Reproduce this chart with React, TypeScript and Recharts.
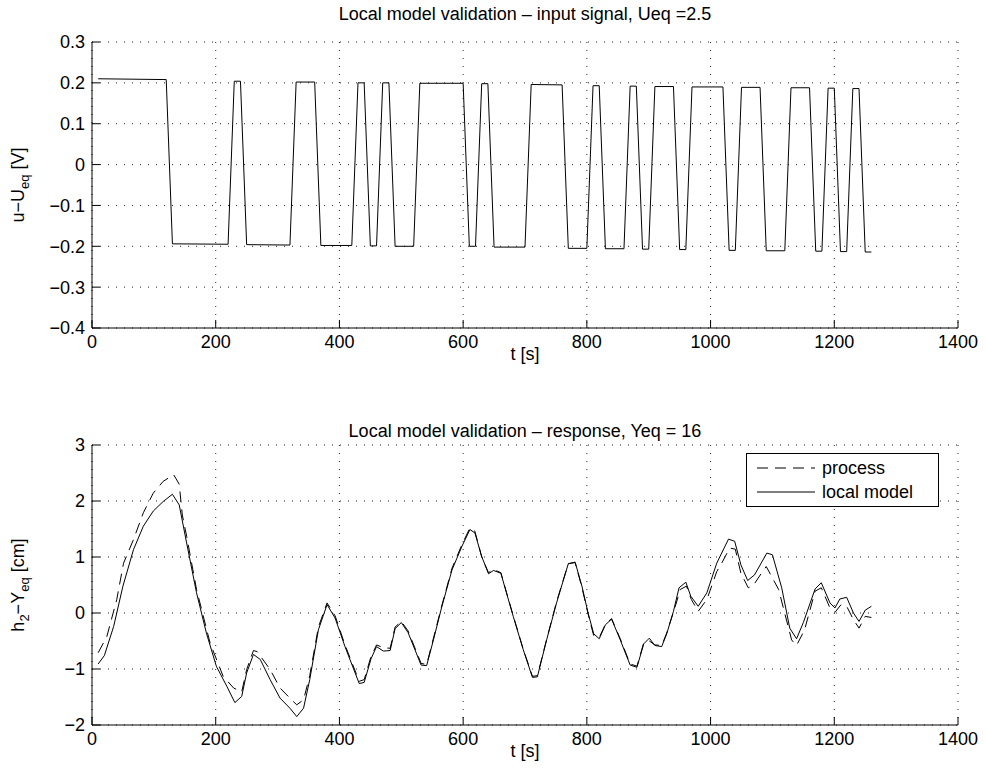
import { LineChart, Line, XAxis, YAxis, CartesianGrid, Legend } from "recharts";

const FONT = '"Liberation Sans", Arial, Helvetica, sans-serif';
const FS = 18;

// axis ticks
const timeTicks = [0, 200, 400, 600, 800, 1000, 1200, 1400];
const inputTicks = [-0.4, -0.3, -0.2, -0.1, 0, 0.1, 0.2, 0.3];
const responseTicks = [-2, -1, 0, 1, 2, 3];
const legendOrder = ["process", "local model"];

// input signal u - Ueq (breakpoints)
const inputT = [10, 120, 130, 220, 230, 240, 250, 320, 330, 360, 370, 420, 430, 440, 450, 460, 470, 480, 490, 520, 530, 600, 610, 620, 630, 640, 650, 700, 710, 760, 770, 800, 810, 820, 830, 860, 870, 880, 890, 900, 910, 940, 950, 960, 970, 1020, 1030, 1040, 1050, 1080, 1090, 1120, 1130, 1160, 1170, 1180, 1190, 1200, 1210, 1220, 1230, 1240, 1250, 1260];
const inputU = [0.21, 0.208, -0.194, -0.195, 0.204, 0.204, -0.196, -0.197, 0.202, 0.202, -0.198, -0.198, 0.2, 0.2, -0.199, -0.199, 0.2, 0.2, -0.2, -0.2, 0.199, 0.199, -0.2, -0.2, 0.198, 0.198, -0.202, -0.202, 0.196, 0.195, -0.205, -0.205, 0.193, 0.193, -0.206, -0.206, 0.192, 0.192, -0.207, -0.207, 0.191, 0.191, -0.208, -0.208, 0.19, 0.19, -0.21, -0.21, 0.189, 0.189, -0.211, -0.211, 0.188, 0.188, -0.212, -0.212, 0.187, 0.187, -0.213, -0.213, 0.186, 0.186, -0.214, -0.214];

// local model response
const modelT = [10, 20, 35, 50, 67, 83, 99, 115, 130, 141, 153, 169, 185, 201, 218, 231, 242, 250, 261, 272, 288, 304, 320, 331, 342, 352, 366, 380, 393, 409, 432, 440, 451, 460, 471, 482, 490, 500, 511, 532, 541, 552, 565, 582, 598, 611, 619, 630, 641, 649, 661, 670, 681, 697, 712, 720, 735, 751, 770, 781, 792, 802, 811, 820, 830, 840, 854, 870, 881, 892, 901, 910, 921, 929, 940, 949, 960, 968, 980, 994, 1010, 1029, 1039, 1049, 1060, 1071, 1091, 1100, 1115, 1128, 1139, 1150, 1169, 1179, 1193, 1201, 1209, 1220, 1231, 1240, 1250, 1260];
const modelY = [-0.91, -0.76, -0.24, 0.48, 1.13, 1.55, 1.82, 1.99, 2.12, 1.93, 1.25, 0.36, -0.36, -0.95, -1.31, -1.6, -1.49, -1.07, -0.74, -0.83, -1.19, -1.52, -1.7, -1.85, -1.7, -1.19, -0.3, 0.15, -0.09, -0.6, -1.26, -1.24, -0.82, -0.6, -0.68, -0.67, -0.28, -0.17, -0.35, -0.93, -0.94, -0.48, 0.09, 0.77, 1.19, 1.49, 1.43, 1.01, 0.7, 0.76, 0.71, 0.36, -0.06, -0.65, -1.15, -1.14, -0.48, 0.18, 0.88, 0.91, 0.48, 0, -0.37, -0.46, -0.21, -0.11, -0.48, -0.93, -0.97, -0.55, -0.45, -0.58, -0.6, -0.375, 0.03, 0.45, 0.55, 0.3, 0.12, 0.36, 0.89, 1.32, 1.28, 0.86, 0.58, 0.68, 1.07, 1.04, 0.45, -0.27, -0.46, -0.17, 0.43, 0.54, 0.18, 0.09, 0.25, 0.28, 0, -0.15, 0.05, 0.12];

// process (measured) response
const processT = [10, 24, 40, 51, 67, 83, 99, 115, 132, 141, 146, 153, 169, 191, 212, 229, 242, 250, 261, 267, 288, 304, 320, 331, 342, 352, 366, 380, 393, 409, 432, 440, 451, 460, 471, 482, 490, 500, 511, 532, 541, 552, 565, 582, 598, 611, 619, 630, 641, 649, 661, 670, 681, 697, 712, 720, 735, 751, 770, 781, 792, 802, 811, 820, 830, 840, 854, 870, 881, 892, 901, 910, 921, 929, 943, 951, 961, 969, 980, 994, 1010, 1018, 1031, 1040, 1049, 1061, 1069, 1084, 1090, 1110, 1131, 1139, 1152, 1169, 1179, 1193, 1201, 1211, 1220, 1231, 1240, 1250, 1260];
const processY = [-0.71, -0.42, 0.24, 0.89, 1.31, 1.79, 2.14, 2.35, 2.47, 2.3, 1.75, 1.37, 0.42, -0.54, -1.13, -1.34, -1.41, -1.01, -0.67, -0.69, -1.01, -1.34, -1.52, -1.64, -1.55, -1.12, -0.25, 0.18, -0.05, -0.57, -1.22, -1.19, -0.78, -0.57, -0.62, -0.63, -0.25, -0.15, -0.32, -0.9, -0.92, -0.45, 0.11, 0.8, 1.22, 1.52, 1.46, 1.0, 0.72, 0.78, 0.72, 0.37, -0.05, -0.64, -1.13, -1.12, -0.47, 0.2, 0.88, 0.9, 0.46, -0.02, -0.4, -0.44, -0.2, -0.1, -0.46, -0.91, -0.95, -0.53, -0.5, -0.57, -0.58, -0.36, 0.12, 0.42, 0.48, 0.24, 0.03, 0.24, 0.74, 0.89, 1.16, 1.14, 0.71, 0.45, 0.49, 0.74, 0.83, 0.42, -0.48, -0.58, -0.3, 0.39, 0.45, 0.09, 0.01, 0.15, 0.12, -0.12, -0.27, -0.06, -0.08];

const inputData = inputT.map((t, i) => ({ t, u: inputU[i] }));
const modelData = modelT.map((t, i) => ({ t, y: modelY[i] }));
const processData = processT.map((t, i) => ({ t, y: processY[i] }));

const minus = (v: number) => (v < 0 ? "\u2212" + Math.abs(v) : String(v));
const noTick = () => <g />;
const tickStyle = { fontSize: FS, fill: "#000", fontFamily: FONT };

const timeLabel = (props: any) => {
  const vb = props.viewBox ?? { x: 92, y: 328, width: 866 };
  return (
    <text x={vb.x + vb.width / 2} y={vb.y + 32} textAnchor="middle" fontSize={FS} fontFamily={FONT} fill="#000">
      t [s]
    </text>
  );
};

// rotated y label with subscripts, plus the panel title above the plot
const yLabel = (parts: [string, boolean][], title: string, titleGap: number) => (props: any) => {
  const vb = props.viewBox ?? { y: 42, height: 286 };
  const cy = vb.y + vb.height / 2;
  const x = 24;
  let sub = false;
  return (
    <g>
      <text x={525} y={vb.y - titleGap} textAnchor="middle" fontSize={FS} fontFamily={FONT} fill="#000">
        {title}
      </text>
      <text x={x} y={cy} transform={`rotate(-90 ${x} ${cy})`} textAnchor="middle" fontSize={FS} fontFamily={FONT} fill="#000">
        {parts.map(([s, isSub], i) => {
          const dy = isSub && !sub ? 5 : !isSub && sub ? -5 : 0;
          sub = isSub;
          return (
            <tspan key={i} dy={dy} fontSize={isSub ? 13 : FS}>
              {s}
            </tspan>
          );
        })}
      </text>
    </g>
  );
};

function BoxLegend(props: any) {
  const items = (props.payload ?? [])
    .filter((p: any) => p.type !== "none")
    .sort((a: any, b: any) => legendOrder.indexOf(a.value) - legendOrder.indexOf(b.value));
  return (
    <svg width={193} height={54} style={{ display: "block" }}>
      <rect x={0.5} y={0.5} width={192} height={53} fill="#fff" stroke="#000" />
      {items.map((it: any, i: number) => (
        <g key={it.value}>
          <line x1={11} x2={69} y1={15 + 24 * i} y2={15 + 24 * i} stroke="#000" strokeDasharray={it.payload?.strokeDasharray} />
          <text x={76} y={21 + 24 * i} fontSize={FS} fontFamily={FONT} fill="#000">
            {it.value}
          </text>
        </g>
      ))}
    </svg>
  );
}

export default function App() {
  return (
    <div style={{ position: "absolute", left: 0, top: 0, width: 985, height: 782, background: "#fff" }}>
      <LineChart width={985} height={391} data={inputData} margin={{ top: 42, right: 27, bottom: 0, left: 0 }}>
        <CartesianGrid stroke="#222" strokeDasharray="1 7" />
        <XAxis dataKey="t" type="number" domain={[0, 1400]} ticks={timeTicks} interval={0} height={63} tickSize={-8} tickMargin={15} stroke="#000" tick={tickStyle} label={timeLabel} />
        <XAxis xAxisId="top" orientation="top" dataKey="t" type="number" domain={[0, 1400]} ticks={timeTicks} interval={0} height={0} tickSize={-8} tick={noTick} stroke="#000" />
        <YAxis type="number" domain={[-0.4, 0.3]} ticks={inputTicks} interval={0} width={92} tickSize={-8} tickMargin={15} tickFormatter={minus} stroke="#000" tick={tickStyle} label={yLabel([["u\u2212U", false], ["eq", true], [" [V]", false]], "Local model validation \u2013 input signal, Ueq =2.5", 22)} />
        <YAxis yAxisId="right" orientation="right" type="number" domain={[-0.4, 0.3]} ticks={inputTicks} interval={0} width={0} tickSize={-8} tick={noTick} stroke="#000" />
        <Line dataKey="u" stroke="#000" strokeWidth={1} dot={false} activeDot={false} isAnimationActive={false} />
        <Line xAxisId="top" yAxisId="right" dataKey="u" stroke="none" dot={false} activeDot={false} legendType="none" isAnimationActive={false} />
      </LineChart>
      <LineChart width={985} height={391} margin={{ top: 54, right: 27, bottom: 0, left: 0 }}>
        <CartesianGrid stroke="#222" strokeDasharray="1 7" />
        <XAxis dataKey="t" type="number" domain={[0, 1400]} ticks={timeTicks} interval={0} height={57} tickSize={-8} tickMargin={15} stroke="#000" tick={tickStyle} label={timeLabel} />
        <XAxis xAxisId="top" orientation="top" dataKey="t" type="number" domain={[0, 1400]} ticks={timeTicks} interval={0} height={0} tickSize={-8} tick={noTick} stroke="#000" />
        <YAxis type="number" domain={[-2, 3]} ticks={responseTicks} interval={0} width={92} tickSize={-8} tickMargin={15} tickFormatter={minus} stroke="#000" tick={tickStyle} label={yLabel([["h", false], ["2", true], ["\u2212Y", false], ["eq", true], [" [cm]", false]], "Local model validation \u2013 response, Yeq = 16", 8)} />
        <YAxis yAxisId="right" orientation="right" type="number" domain={[-2, 3]} ticks={responseTicks} interval={0} width={0} tickSize={-8} tick={noTick} stroke="#000" />
        <Line data={processData} dataKey="y" name="process" stroke="#000" strokeWidth={1} strokeDasharray="11 7" dot={false} activeDot={false} isAnimationActive={false} />
        <Line data={modelData} dataKey="y" name="local model" stroke="#000" strokeWidth={1} dot={false} activeDot={false} isAnimationActive={false} />
        <Line data={modelData} xAxisId="top" yAxisId="right" dataKey="y" stroke="none" dot={false} activeDot={false} legendType="none" isAnimationActive={false} />
        <Legend layout="horizontal" align="center" verticalAlign="middle" content={<BoxLegend />} wrapperStyle={{ left: 746, top: 62, width: 193, height: 54 }} />
      </LineChart>
    </div>
  );
}
